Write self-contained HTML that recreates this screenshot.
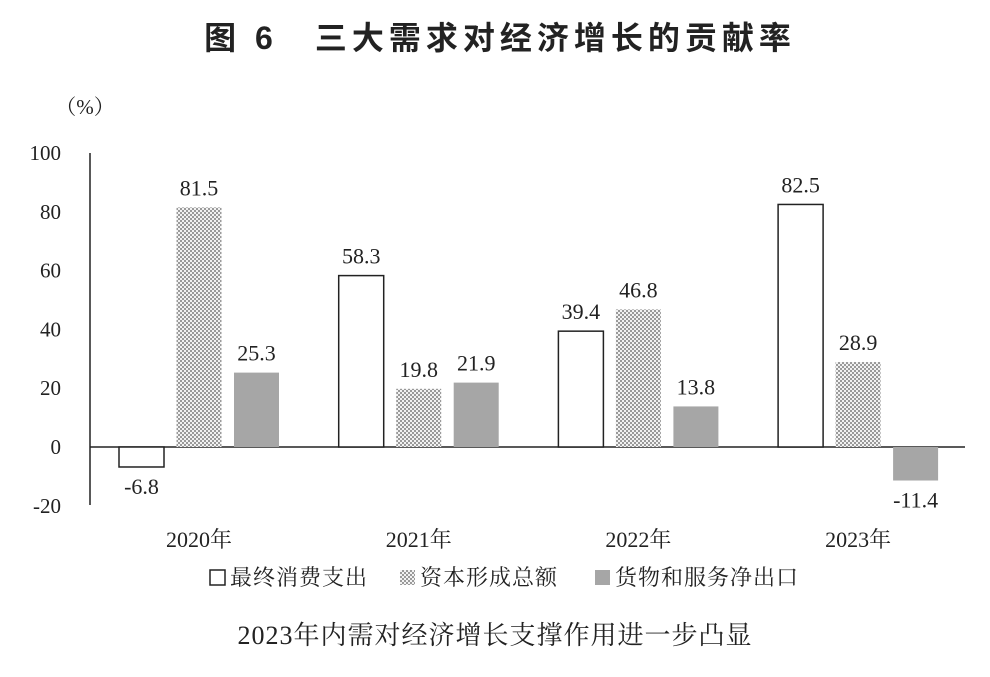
<!DOCTYPE html>
<html><head><meta charset="utf-8"><style>
body{margin:0;background:#fff;}
svg text{font-family:"Liberation Serif","Noto Serif CJK SC",serif;fill:#222;}
</style></head><body>
<svg id="chart" width="990" height="672" viewBox="0 0 990 672">
<defs>
<pattern id="chk" width="4" height="4" patternUnits="userSpaceOnUse">
<rect width="4" height="4" fill="#f2f2f2"/>
<rect width="2" height="2" fill="#9a9a9a"/>
<rect x="2" y="2" width="2" height="2" fill="#9a9a9a"/>
</pattern>
</defs>
<text x="500" y="49" text-anchor="middle" font-size="32" font-weight="bold" style="font-family:'Liberation Sans','Noto Sans CJK SC',sans-serif;letter-spacing:5px">图 6　三大需求对经济增长的贡献率</text>
<text x="85" y="114" text-anchor="middle" font-size="21">（%）</text>
<g id="axes"></g>
<g id="bars"></g>
<g id="legend">
<rect x="210" y="570" width="15" height="15" fill="#fff" stroke="#222" stroke-width="1.5"/>
<text x="230" y="585" font-size="22" style="letter-spacing:1px">最终消费支出</text>
<rect x="400" y="570" width="15" height="15" fill="url(#chk)"/>
<text x="420" y="585" font-size="22" style="letter-spacing:1px">资本形成总额</text>
<rect x="595" y="570" width="15" height="15" fill="#a6a6a6"/>
<text x="615" y="585" font-size="22" style="letter-spacing:1px">货物和服务净出口</text>
</g>
<text x="495" y="644" text-anchor="middle" font-size="26" style="letter-spacing:1px">2023年内需对经济增长支撑作用进一步凸显</text>
</svg>
<script>
const categories=["2020年","2021年","2022年","2023年"];
const consumption=[-6.8,58.3,39.4,82.5];
const capital=[81.5,19.8,46.8,28.9];
const netExport=[25.3,21.9,13.8,-11.4];
const yTicks=[100,80,60,40,20,0,-20];
const NS="http://www.w3.org/2000/svg";
const y=v=>447-v*2.94;
const gx=i=>119+i*219.7;
function mk(tag,attrs,parent,txt){const e=document.createElementNS(NS,tag);for(const k in attrs)e.setAttribute(k,attrs[k]);if(txt!==undefined)e.textContent=txt;parent.appendChild(e);return e;}
const axes=document.getElementById('axes'),bars=document.getElementById('bars');
const ax=mk('line',{x1:90,x2:90,y1:153,y2:505,stroke:'#222','stroke-width':1.5},axes);


const zl=mk('line',{x1:90,x2:965,y1:y(0),y2:y(0),stroke:'#222','stroke-width':1.5},axes);


yTicks.forEach(t=>{const e=mk('text',{x:61,y:y(t)+7,'text-anchor':'end','font-size':21},axes,String(t));

});
const series=[[consumption,'#fff','consumption'],[capital,'url(#chk)','capital'],[netExport,'#a6a6a6','export']];
categories.forEach((c,i)=>{
 const lab=mk('text',{x:gx(i)+80,y:547,'text-anchor':'middle','font-size':22},axes,c);
 
 
 series.forEach((s,j)=>{
  const v=s[0][i];const x=gx(i)+j*57.5;const top=Math.min(y(v),y(0));const h=Math.abs(y(v)-y(0));
  const r=mk('rect',{x:x,y:top,width:45,height:h,fill:s[1],stroke:j==0?'#222':'none','stroke-width':1.5},bars);
  
  
  const ly=v>=0?y(v)-12:y(v)+27;
  const t=mk('text',{x:x+22.5,y:ly,'text-anchor':'middle','font-size':22},bars,v.toFixed(1));
  
  
 });
});
</script>
</body></html>
